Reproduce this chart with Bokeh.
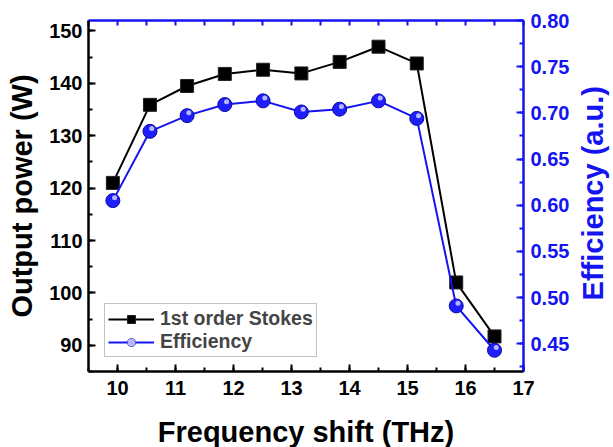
import math
from bokeh.plotting import figure
from bokeh.models import (Range1d, LinearAxis, SingleIntervalTicker, FixedTicker, Legend, LegendItem,
                          NumeralTickFormatter, ColumnDataSource, CustomJSTickFormatter)
from bokeh.transform import dodge
from bokeh.embed import file_html
from bokeh.resources import INLINE

freq = [9.92, 10.56, 11.20, 11.85, 12.51, 13.17, 13.83, 14.50, 15.16, 15.84, 16.50]
power = [121.0, 135.9, 139.5, 141.8, 142.6, 141.9, 144.1, 147.0, 143.8, 102.0, 91.7]
efficiency = [0.605, 0.680, 0.697, 0.709, 0.713, 0.701, 0.704, 0.713, 0.694, 0.491, 0.443]

BLUE = "#1414f0"
FONT = "Liberation Sans"
FW, FH = 435, 351

src = ColumnDataSource(dict(x=freq, p=power, e=efficiency))

p = figure(frame_width=FW, frame_height=FH, output_backend="svg", toolbar_location=None,
           x_range=Range1d(9.5, 17.0), y_range=Range1d(85, 152),
           min_border_left=88, min_border_top=20, min_border_right=60, min_border_bottom=62,
           x_axis_location=None, y_axis_location=None)
p.extra_y_ranges = {"eff": Range1d(0.42, 0.80)}
p.grid.visible = False
p.outline_line_color = None
p.background_fill_color = "white"
p.border_fill_color = "white"


def style(ax, color, font_size="20px"):
    ax.axis_line_color = color
    ax.axis_line_width = 2.5
    ax.major_tick_line_color = color
    ax.minor_tick_line_color = color
    ax.major_tick_line_width = 2
    ax.minor_tick_line_width = 2
    ax.major_tick_in = 7
    ax.major_tick_out = 0
    ax.minor_tick_in = 4
    ax.minor_tick_out = 0
    ax.major_label_text_color = color
    ax.major_label_text_font = FONT
    ax.major_label_text_font_style = "bold"
    ax.major_label_text_font_size = font_size
    ax.axis_label_text_color = color
    ax.axis_label_text_font = FONT
    ax.axis_label_text_font_style = "bold"
    ax.axis_label_text_font_size = "29px"


xb = LinearAxis(ticker=SingleIntervalTicker(interval=1, num_minor_ticks=2),
                axis_label="Frequency shift (THz)")
style(xb, "black")
xb.major_label_standoff = 9
xb.axis_label_standoff = 18
p.add_layout(xb, "below")

xt = LinearAxis(ticker=SingleIntervalTicker(interval=0.5, num_minor_ticks=0),
                formatter=CustomJSTickFormatter(code="return ''"))
style(xt, BLUE)
xt.major_label_standoff = 0
xt.major_tick_in = 5
p.add_layout(xt, "above")

yl = LinearAxis(ticker=SingleIntervalTicker(interval=10, num_minor_ticks=2),
                axis_label="Output power (W)")
style(yl, "black")
yl.major_label_standoff = 6
yl.axis_label_standoff = 8
p.add_layout(yl, "left")

yr = LinearAxis(y_range_name="eff", ticker=SingleIntervalTicker(interval=0.05, num_minor_ticks=2),
                formatter=NumeralTickFormatter(format="0.00"))
style(yr, BLUE)
yr.major_label_standoff = 7
p.add_layout(yr, "right")

# right-hand title drawn as a rotated tick label of a bare outer axis (reads bottom-to-top)
yr_title = LinearAxis(y_range_name="eff", ticker=FixedTicker(ticks=[0.497], minor_ticks=[]),
                      formatter=CustomJSTickFormatter(code="return 'Efficiency (a.u.)'"))
style(yr_title, BLUE, font_size="29px")
yr_title.axis_line_color = None
yr_title.major_tick_line_color = None
yr_title.minor_tick_line_color = None
yr_title.major_tick_in = 0
yr_title.minor_tick_in = 0
yr_title.major_label_standoff = 21
yr_title.major_label_orientation = math.pi / 2
p.add_layout(yr_title, "right")

l1 = p.line("x", "p", source=src, line_color="black", line_width=2)
s1 = p.scatter("x", "p", source=src, marker="square", size=13, fill_color="black",
               line_color="#222222", line_width=1)

l2 = p.line("x", "e", source=src, y_range_name="eff", line_color=BLUE, line_width=2)
s2 = p.scatter("x", "e", source=src, y_range_name="eff", marker="circle", size=14,
               fill_color="#1e1eff", line_color="#0a0a9a", line_width=1)
s3 = p.scatter(dodge("x", 0.03), dodge("e", 0.003), source=src, y_range_name="eff",
               marker="circle", size=5, fill_color="#c8c8ff", line_color=None, fill_alpha=0.9)

legend = Legend(items=[LegendItem(label="1st order Stokes", renderers=[l1, s1]),
                       LegendItem(label="Efficiency", renderers=[l2, s2, s3])],
                location=(16, 14), orientation="vertical")
legend.label_text_font = FONT
legend.label_text_font_style = "bold"
legend.label_text_font_size = "19.5px"
legend.label_height = 20
legend.glyph_height = 20
legend.glyph_width = 46
legend.label_standoff = 6
legend.spacing = 0
legend.padding = 3
legend.margin = 0
legend.border_line_color = "#888888"
legend.border_line_width = 1.5
legend.background_fill_color = "white"
p.add_layout(legend, "center")

open("out.html", "w").write(file_html(p, INLINE))
